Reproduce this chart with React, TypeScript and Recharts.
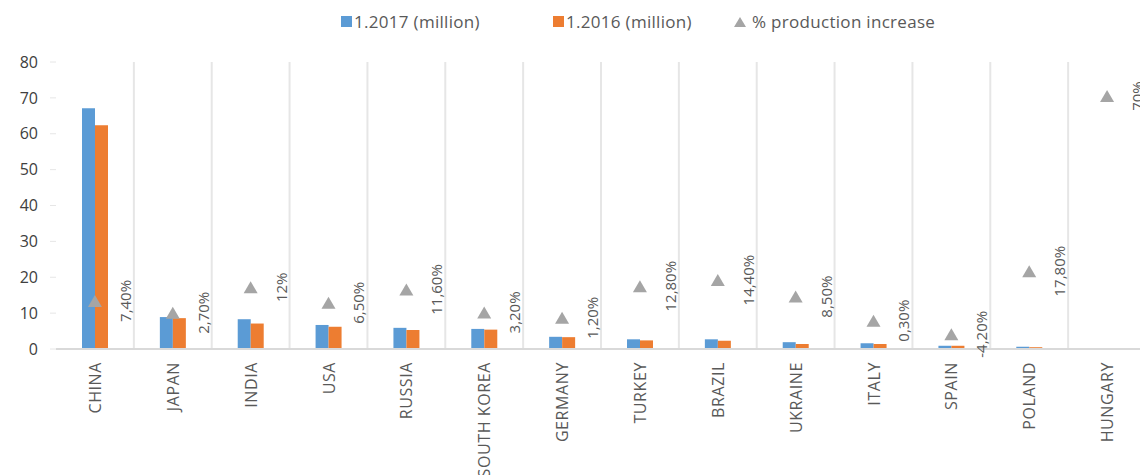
import { ComposedChart, Bar, Line, LabelList, XAxis, YAxis, CartesianGrid } from 'recharts';

// Countries and values
const countries = ['CHINA', 'JAPAN', 'INDIA', 'USA', 'RUSSIA', 'SOUTH KOREA', 'GERMANY', 'TURKEY', 'BRAZIL', 'UKRAINE', 'ITALY', 'SPAIN', 'POLAND', 'HUNGARY'];
const prod2017 = [67.1, 8.9, 8.3, 6.7, 5.9, 5.6, 3.4, 2.7, 2.7, 1.9, 1.6, 0.9, 0.65, 0];
const prod2016 = [62.4, 8.6, 7.1, 6.2, 5.3, 5.4, 3.3, 2.4, 2.3, 1.4, 1.4, 0.9, 0.5, 0];
// marker heights as drawn in the reference, and the labels printed beside them
const increaseMarker = [13.4, 10.1, 17.2, 12.9, 16.6, 10.2, 8.7, 17.5, 19.2, 14.6, 7.9, 4.1, 21.7, 70.5];
const increaseLabel = ['7,40%', '2,70%', '12%', '6,50%', '11,60%', '3,20%', '1,20%', '12,80%', '14,40%', '8,50%', '0,30%', '-4,20%', '17,80%', '70%'];
const yTicks = [0, 10, 20, 30, 40, 50, 60, 70, 80];

const data = countries.map((c, i) => ({
  country: c,
  y2017: prod2017[i],
  y2016: prod2016[i],
  marker: increaseMarker[i],
  label: increaseLabel[i],
}));

const BLUE = '#5b9bd5';
const ORANGE = '#ed7d31';
const GREY = '#a5a5a5';
const FONT = '"Open Sans", sans-serif';

const Triangle = ({ cx, cy }: any) => {
  if (cx == null || cy == null) return null;
  return <path d={`M${cx},${cy - 6} L${cx + 7},${cy + 6} L${cx - 7},${cy + 6} Z`} fill={GREY} />;
};

const PctLabel = ({ x, y, value }: any) => (
  <text
    x={x + 30}
    y={y}
    transform={`rotate(-90, ${x + 30}, ${y})`}
    textAnchor="middle"
    dominantBaseline="central"
    fontSize={15}
    fill="#595959"
    fontFamily={FONT}
  >
    {value}
  </text>
);

const CountryTick = ({ x, y, payload }: any) => (
  <text
    x={x}
    y={y + 5}
    transform={`rotate(-90, ${x}, ${y + 5})`}
    textAnchor="end"
    dominantBaseline="central"
    fontSize={16}
    letterSpacing={0.6}
    fill="#595959"
    fontFamily={FONT}
  >
    {payload.value}
  </text>
);

const legendItems = [
  { name: '1.2017 (million)', color: BLUE, type: 'square', left: 341 },
  { name: '1.2016 (million)', color: ORANGE, type: 'square', left: 553 },
  { name: '% production increase', color: GREY, type: 'triangle', left: 733 },
];

export default function App() {
  return (
    <div style={{ position: 'absolute', left: 0, top: 0, width: 1140, height: 475, overflow: 'hidden', background: '#fff', fontFamily: FONT }}>
      {legendItems.map((it) => (
        <div
          key={it.name}
          style={{ position: 'absolute', top: 10, left: it.left, display: 'flex', alignItems: 'center', fontSize: 17, letterSpacing: 0.3, color: '#595959', whiteSpace: 'nowrap' }}
        >
          {it.type === 'square' ? (
            <span style={{ display: 'inline-block', width: 11, height: 11, background: it.color, marginRight: 2 }} />
          ) : (
            <svg width={14} height={12} style={{ marginRight: 5 }}>
              <path d="M7,1 L13,11 L1,11 Z" fill={it.color} />
            </svg>
          )}
          <span>{it.name}</span>
        </div>
      ))}
      <ComposedChart
        width={1150}
        height={475}
        data={data}
        margin={{ top: 62, right: 4, bottom: 0, left: 0 }}
        barGap={0}
      >
        <CartesianGrid
          horizontal={false}
          stroke="#e6e6e6"
          strokeWidth={2}
          verticalCoordinatesGenerator={({ offset }: any) => {
            const step = offset.width / countries.length;
            return countries.map((_, i) => offset.left + (i + 1) * step);
          }}
        />
        <XAxis
          dataKey="country"
          interval={0}
          height={126}
          tickLine={false}
          axisLine={{ stroke: '#d9d9d9', strokeWidth: 2 }}
          tick={<CountryTick />}
        />
        <YAxis
          width={56}
          domain={[0, 80]}
          ticks={yTicks}
          axisLine={false}
          tickLine={{ stroke: '#e6e6e6' }}
          tickSize={6}
          tickMargin={12}
          tick={{ fontSize: 16, fill: '#404040', fontFamily: FONT }}
        />
        <Bar dataKey="y2017" fill={BLUE} barSize={13} isAnimationActive={false} />
        <Bar dataKey="y2016" fill={ORANGE} barSize={13} isAnimationActive={false} />
        <Line dataKey="marker" stroke="none" dot={<Triangle />} activeDot={false} isAnimationActive={false}>
          <LabelList dataKey="label" content={<PctLabel />} />
        </Line>
      </ComposedChart>
    </div>
  );
}
